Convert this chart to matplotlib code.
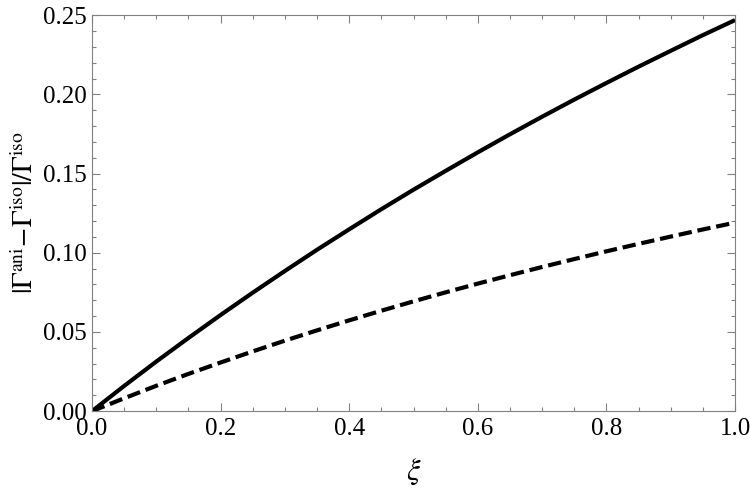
import numpy as np
import matplotlib
matplotlib.use('Agg')
import matplotlib.pyplot as plt
from matplotlib.ticker import MultipleLocator, FormatStrFormatter

# values
xi = [0.0, 0.05, 0.1, 0.15, 0.2, 0.25, 0.3, 0.35, 0.4, 0.45, 0.5,
      0.55, 0.6, 0.65, 0.7, 0.75, 0.8, 0.85, 0.9, 0.95, 1.0]
solid = [0.0, 0.0159, 0.0313, 0.0462, 0.0607, 0.0748, 0.0885, 0.1019, 0.1148, 0.1275, 0.1398,
         0.1517, 0.1634, 0.1748, 0.1859, 0.1967, 0.2072, 0.2175, 0.2275, 0.2374, 0.2469]
dashed = [0.0, 0.0081, 0.0160, 0.0235, 0.0307, 0.0377, 0.0445, 0.0510, 0.0573, 0.0634, 0.0693,
          0.0750, 0.0805, 0.0858, 0.0910, 0.0960, 0.1009, 0.1056, 0.1102, 0.1147, 0.1190]

plt.rcParams['font.family'] = ['Liberation Serif', 'DejaVu Serif']
plt.rcParams['mathtext.fontset'] = 'stix'

fig = plt.figure(figsize=(7.5, 4.9), dpi=100)
ax = fig.add_axes([0.1227, 0.161, 0.8573, 0.808])

ax.plot(xi, solid, color='black', lw=3, solid_capstyle='butt', solid_joinstyle='round')
ax.plot(xi, dashed, color='black', lw=3, dashes=(3.2, 1.4), dash_capstyle='butt')

ax.set_xlim(0, 1)
ax.set_ylim(0, 0.25)
ax.xaxis.set_major_locator(MultipleLocator(0.2))
ax.xaxis.set_minor_locator(MultipleLocator(0.05))
ax.yaxis.set_major_locator(MultipleLocator(0.05))
ax.yaxis.set_minor_locator(MultipleLocator(0.01))
ax.xaxis.set_major_formatter(FormatStrFormatter('%.1f'))
ax.yaxis.set_major_formatter(FormatStrFormatter('%.2f'))

gray = '#808080'
for s in ax.spines.values():
    s.set_color(gray)
    s.set_linewidth(0.8)
ax.tick_params(which='both', direction='in', top=True, right=True, color=gray,
               labelsize=18, labelcolor='black', width=0.8)
ax.tick_params(which='major', length=6)
ax.tick_params(axis='x', which='major', pad=5)
ax.tick_params(axis='y', which='major', pad=4)
ax.tick_params(which='minor', length=3)

ax.set_xlabel(r'$\xi$', fontsize=22, labelpad=12)
ax.set_ylabel(r'$|\Gamma^{\rm ani}\!-\!\Gamma^{\rm iso}|/\Gamma^{\rm iso}$', fontsize=20, labelpad=3)

fig.savefig('out.png', dpi=100)
